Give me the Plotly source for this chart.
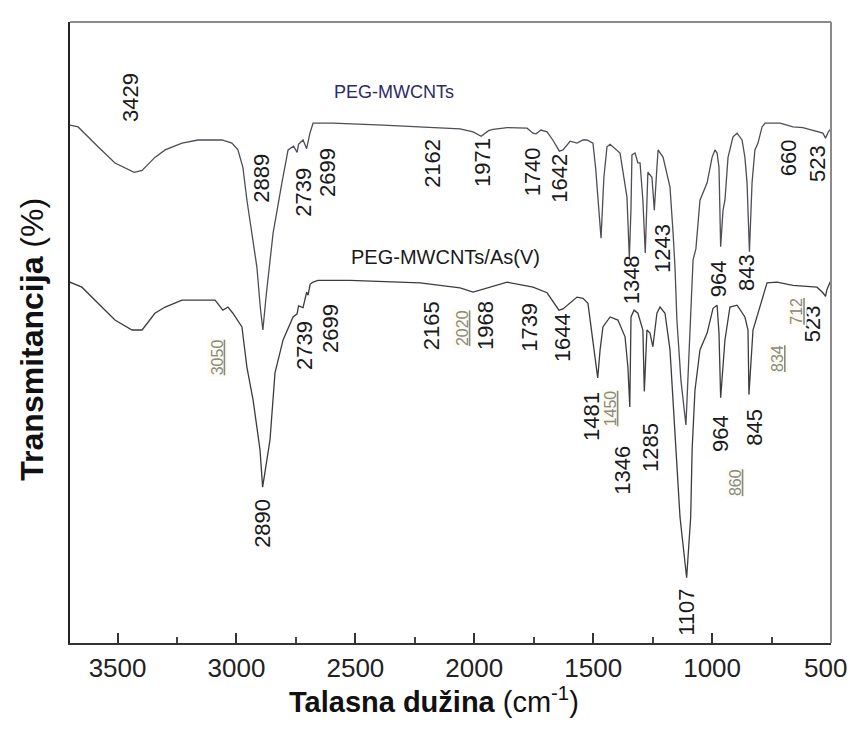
import plotly.graph_objects as go

# ---------------- data ----------------
# PEG-MWCNTs (upper spectrum)
wn_peg = [3700, 3666, 3582, 3511, 3430, 3397, 3343, 3300, 3229, 3162, 3061, 3019, 2994, 2973, 2956,
          2935, 2914, 2900, 2889, 2875, 2846, 2809, 2783, 2760, 2745, 2739, 2720, 2705, 2699, 2691,
          2678, 2594, 2384, 2283, 2174, 2060, 2005, 1971, 1940, 1921, 1862, 1778, 1753, 1740, 1720,
          1694, 1670, 1642, 1627, 1597, 1568, 1543, 1526, 1501, 1490, 1467, 1455, 1442, 1429, 1417,
          1387, 1358, 1348, 1341, 1337, 1324, 1312, 1303, 1291, 1281, 1274, 1270, 1253, 1243, 1232,
          1227, 1206, 1177, 1164, 1156, 1148, 1131, 1110, 1095, 1080, 1068, 1063, 1051, 1021, 1000,
          988, 979, 971, 964, 954, 946, 933, 912, 895, 874, 862, 853, 843, 832, 820, 807, 790, 777,
          714, 660, 618, 576, 534, 523, 510, 504, 500]
t_peg = [83.4, 83.1, 79.9, 77.3, 75.8, 76.1, 78.2, 79.4, 80.5, 81.0, 81.0, 80.5, 79.4, 76.6, 71.3,
         66.0, 60.5, 54.1, 50.4, 56.0, 66.0, 74.1, 79.4, 80.0, 79.0, 80.3, 81.0, 79.6, 80.6, 82.1,
         83.7, 83.7, 83.4, 83.2, 83.1, 82.8, 82.3, 81.6, 82.5, 82.7, 83.0, 82.9, 82.1, 82.0, 82.6,
         82.3, 81.0, 79.2, 79.4, 80.8, 80.5, 81.0, 81.0, 80.5, 76.6, 65.2, 75.0, 79.9, 80.3, 79.9,
         78.9, 71.8, 62.0, 70.0, 78.6, 78.9, 77.3, 77.3, 71.3, 62.8, 73.4, 75.8, 75.0, 69.7, 76.6,
         79.4, 78.2, 73.4, 66.0, 60.5, 52.0, 42.3, 35.1, 48.8, 61.7, 63.5, 66.0, 71.3, 74.1, 78.2,
         79.4, 78.9, 76.6, 63.8, 69.7, 71.3, 78.2, 81.5, 82.1, 81.0, 78.2, 74.1, 63.0, 74.1, 79.4,
         80.5, 83.1, 83.7, 83.7, 83.1, 83.0, 82.6, 82.1, 81.3, 82.4, 82.6, 83.0]

# PEG-MWCNTs/As(V) (lower spectrum)
wn_as = [3700, 3650, 3582, 3511, 3439, 3397, 3343, 3300, 3229, 3090, 3057, 3036, 3015, 2977, 2956,
         2930, 2901, 2890, 2859, 2838, 2804, 2762, 2745, 2739, 2720, 2705, 2699, 2690, 2678, 2657,
         2523, 2283, 2228, 2144, 2060, 2005, 1947, 1862, 1753, 1694, 1644, 1627, 1568, 1543, 1522,
         1505, 1481, 1471, 1459, 1429, 1396, 1366, 1354, 1346, 1341, 1328, 1312, 1291, 1285, 1274,
         1261, 1249, 1232, 1219, 1198, 1177, 1156, 1135, 1107, 1090, 1084, 1072, 1051, 1021, 996,
         979, 971, 964, 946, 925, 895, 862, 849, 845, 828, 799, 769, 727, 660, 559, 534, 523, 518,
         504, 500]
t_as = [58.1, 57.3, 54.7, 52.0, 50.4, 50.4, 53.1, 54.1, 55.2, 55.2, 53.6, 54.1, 53.1, 50.9, 44.4,
        39.1, 31.1, 25.1, 32.7, 43.5, 48.8, 52.5, 53.0, 54.3, 54.0, 56.5, 56.0, 57.8, 58.1, 58.4,
        58.4, 58.1, 58.0, 57.6, 57.2, 56.5, 57.2, 58.1, 57.3, 56.4, 53.6, 53.8, 55.7, 55.5, 54.7,
        49.9, 42.7, 47.2, 50.9, 52.5, 52.0, 49.3, 44.4, 38.0, 52.5, 53.6, 53.1, 50.4, 40.5, 50.4,
        49.9, 47.7, 53.1, 54.1, 53.1, 47.2, 33.8, 20.3, 10.5, 20.3, 31.1, 40.7, 47.2, 49.9, 53.9,
        54.4, 49.9, 39.5, 48.8, 54.1, 54.4, 52.5, 50.4, 40.0, 50.4, 54.1, 58.0, 58.1, 57.6, 57.3,
        56.4, 55.8, 56.8, 58.1, 58.2]

# tick labels
x_ticks = [3500, 3000, 2500, 2000, 1500, 1000, 500]
x_ticklabels = ["3500", "3000", "2500", "2000", "1500", "1000", "500"]

# peak labels: (text, wavenumber position, transmittance position)
peaks_peg = [("3429", 3448, 87.9), ("2889", 2893, 74.9), ("2739", 2718, 72.6), ("2699", 2615, 75.7),
             ("2162", 2174, 77.3), ("1971", 1963, 77.3), ("1740", 1757, 75.8), ("1642", 1640, 74.9),
             ("1348", 1341, 58.4), ("1243", 1211, 63.6), ("964", 975, 58.6), ("843", 853, 59.6),
             ("660", 681, 78.2), ("523", 555, 77.3)]
peaks_as = [("2890", 2888, 19.2), ("2739", 2712, 48.0), ("2699", 2607, 50.7), ("2165", 2182, 51.0),
            ("1968", 1955, 51.2), ("1739", 1766, 50.9), ("1644", 1631, 49.1), ("1481", 1505, 36.4),
            ("1346", 1375, 27.9), ("1285", 1261, 31.4), ("1107", 1106, 5.0), ("964", 967, 33.8),
            ("845", 820, 34.8), ("523", 580, 51.5)]
peaks_grey = [("3050", 3082, 46.0), ("2020", 2052, 50.7), ("1450", 1429, 37.8), ("860", 904, 25.9),
              ("834", 723, 45.9), ("712", 643, 53.5)]

series_names = ["PEG-MWCNTs", "PEG-MWCNTs/As(V)"]

# ---------------- figure ----------------
FONT = "Liberation Sans, Arial, sans-serif"
fig = go.Figure()
fig.add_trace(go.Scatter(x=wn_peg, y=t_peg, mode="lines", name=series_names[0],
                         line=dict(color="#4d4d55", width=1.3)))
fig.add_trace(go.Scatter(x=wn_as, y=t_as, mode="lines", name=series_names[1],
                         line=dict(color="#3c3c3c", width=1.3)))

ann = []
for txt, x, y in peaks_peg + peaks_as:
    ann.append(dict(x=x, y=y, xref="x", yref="y", text=txt, showarrow=False, textangle=-90,
                    font=dict(family=FONT, size=22, color="#1a1a1a")))
for txt, x, y in peaks_grey:
    ann.append(dict(x=x, y=y, xref="x", yref="y", text="<u>" + txt + "</u>", showarrow=False,
                    textangle=-90, bgcolor="#fdfcf2",
                    font=dict(family=FONT, size=16, color="#8a8a80")))
ann.append(dict(x=2338, y=88.7, xref="x", yref="y", text=series_names[0], showarrow=False,
                font=dict(family=FONT, size=18, color="#2b2b66")))
ann.append(dict(x=2119, y=62.1, xref="x", yref="y", text=series_names[1], showarrow=False,
                font=dict(family=FONT, size=20, color="#1a1a1a")))
# last tick label, nudged left so it is not clipped by the window edge
ann.append(dict(x=x_ticks[-1], y=-0.040, xref="x", yref="paper", xanchor="center",
                yanchor="middle", xshift=-6, text=x_ticklabels[-1], showarrow=False,
                font=dict(family=FONT, size=26, color="#222")))
# axis titles
ann.append(dict(x=-0.05, y=0.49, xref="paper", yref="paper", xanchor="center", yanchor="middle",
                text="<b>Transmitancija</b> (%)",
                showarrow=False, textangle=-90, font=dict(family=FONT, size=32, color="#111")))
ann.append(dict(x=0.478, y=-0.092, xref="paper", yref="paper", xanchor="center", yanchor="middle",
                text="<b>Talasna dužina</b> (cm<sup>-1</sup>)", showarrow=False,
                font=dict(family=FONT, size=29, color="#111")))

# page body has an 8px margin, so the figure is shifted/sized to land the plot at the right pixels
fig.update_layout(
    width=847, height=713,
    margin=dict(l=62, r=24, t=14, b=78, autoexpand=False),
    paper_bgcolor="white", plot_bgcolor="white",
    showlegend=False,
    annotations=ann,
    shapes=[
        dict(type="line", xref="paper", yref="paper", x0=0, x1=1, y0=1, y1=1,
             line=dict(color="#8a8a8a", width=2)),
        dict(type="line", xref="paper", yref="paper", x0=1, x1=1, y0=0, y1=1,
             line=dict(color="#8a8a8a", width=2)),
    ],
)
fig.update_xaxes(range=[3700, 500], tickvals=x_ticks, ticktext=x_ticklabels[:-1] + [""],
                 ticks="inside", ticklen=10, tickwidth=2, tickcolor="#333",
                 minor=dict(ticks="inside", ticklen=6, tickwidth=1.5, tickcolor="#444",
                            tickvals=[3250, 2750, 2250, 1750, 1250, 750]),
                 showline=True, linecolor="#333", linewidth=2, showgrid=False, zeroline=False,
                 automargin=False, ticklabelstandoff=1,
                 tickfont=dict(family=FONT, size=26, color="#222"))
fig.update_yaxes(range=[0, 100], showticklabels=False, ticks="", showline=True, automargin=False,
                 linecolor="#222", linewidth=2, showgrid=False, zeroline=False)

fig.write_html("out.html")
